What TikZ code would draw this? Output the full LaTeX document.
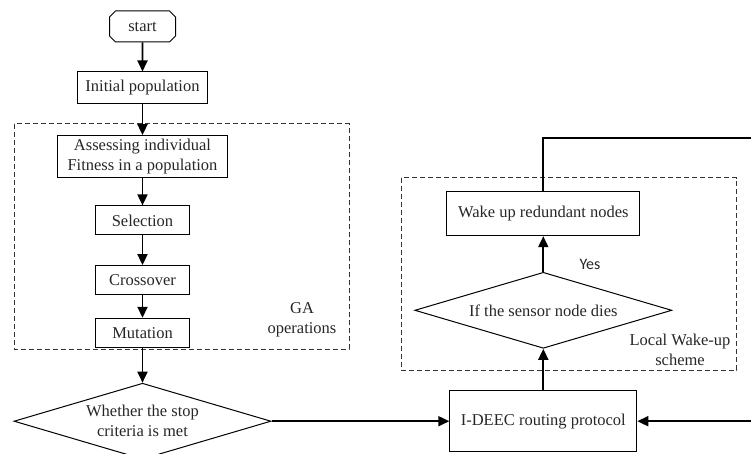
\documentclass[tikz,border=0pt]{standalone}
\usepackage{fontspec}
\setmainfont{Liberation Serif}
\newfontfamily\yesfont{Carlito}
\usetikzlibrary{positioning,shapes.geometric,shapes.misc,arrows.meta}

\begin{document}
\begin{tikzpicture}[x=1pt, y=-1pt, node distance=29pt,
    font=\fontsize{16.5}{20}\selectfont, text=black!85,
    box/.style={draw, line width=1pt, inner sep=2pt, align=center},
    decision/.style={draw, diamond, line width=1pt, inner sep=0pt, align=center,
      shape aspect=3.37, minimum width=257pt, minimum height=76pt},
    group/.style={draw=black!80, dash pattern=on 5pt off 3pt, line width=1pt},
    flow/.style={line width=1.8pt, -{Triangle[length=11pt,width=10pt]}}]
    \useasboundingbox (0,0) rectangle (751,454);

    % GA part
    \node[box, chamfered rectangle, chamfered rectangle xsep=3pt,
      chamfered rectangle ysep=3pt, minimum width=66pt, minimum height=31pt]
      (start) at (142.5,26.5) {start};
    \node[box, minimum width=130pt, minimum height=32pt, below=29pt of start] (init)  {Initial population};
    \node[box, minimum width=170pt, minimum height=42pt, below=30.6pt of init] (assess) {Assessing individual\\Fitness in a population};
    \node[box, minimum width=94pt, minimum height=29pt, below=27.3pt of assess] (sel)   {Selection};
    \node[box, minimum width=94pt, minimum height=29pt, below=29.7pt of sel]    (cross) {Crossover};
    \node[box, minimum width=94pt, minimum height=29pt, below=22.7pt of cross]  (mut)   {Mutation};
    \node[decision] (stop) at (142.5,421.2) {Whether the stop\\criteria is met};
    \draw[group] (14,124) rectangle (349,349);
    \node[align=center] (galabel) at (302,320) {GA\\operations};

    % routing and wake-up part
    \node[box, minimum width=187pt, minimum height=61pt] (ideec) at (543.3,421.2) {I-DEEC routing protocol};
    \node[decision, above=41.4pt of ideec] (dies) {If the sensor node dies};
    \node[box, minimum width=193pt, minimum height=44pt, above=35.6pt of dies] (wake) {Wake up redundant nodes};
    \draw[group] (401,177.7) rectangle (736.7,370);
    \node[align=center] (lwlabel) at (680,350) {Local Wake-up\\scheme};
    \node[font=\yesfont\fontsize{16}{19}\selectfont] (yes) at (590,264) {Yes};

    \foreach \a/\b in {start/init, init/assess, assess/sel, sel/cross,
                      cross/mut, mut/stop, stop/ideec, ideec/dies, dies/wake}
      \draw[flow] (\a) -- (\b);

    % loop back round the right edge
    \coordinate (turn) at (762,137.7);
    \draw[flow] (wake.north) |- (turn) |- (ideec);
\end{tikzpicture}
\end{document}
